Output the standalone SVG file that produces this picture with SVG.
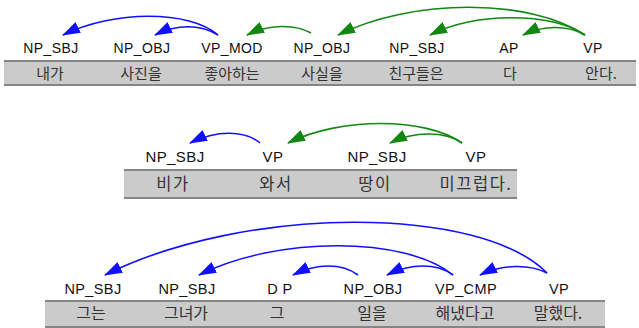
<svg xmlns="http://www.w3.org/2000/svg" width="639" height="328" viewBox="0 0 639 328">
<style>
.bg{fill:#ffffff}
.bar{fill:#cbcbcb}
.edge{stroke:#858585;stroke-width:2}
.lbl{font-family:"Liberation Sans",Arial,sans-serif;fill:#111;text-anchor:middle;letter-spacing:0.4px}
.w{font-family:"Noto Sans CJK KR","Noto Sans",sans-serif;fill:#333;text-anchor:middle}
.r1 .lbl{font-size:14px}.r1 .w{font-size:15px}
.r2 .lbl{font-size:15px}.r2 .w{font-size:16.5px;letter-spacing:1.5px}
.r3 .lbl{font-size:14.5px}.r3 .w{font-size:16px}
.b{fill:none;stroke:#1010ff;stroke-width:1.6;marker-end:url(#ab)}
.g{fill:none;stroke:#128812;stroke-width:1.6;marker-end:url(#ag)}
</style>
<defs>
<marker id="ab" markerUnits="userSpaceOnUse" markerWidth="18" markerHeight="12" viewBox="0 0 18 12" refX="17" refY="6" orient="auto"><path d="M0,0 L18,6 L0,12 z" fill="#1010ff"/></marker>
<marker id="ag" markerUnits="userSpaceOnUse" markerWidth="18" markerHeight="12" viewBox="0 0 18 12" refX="17" refY="6" orient="auto"><path d="M0,0 L18,6 L0,12 z" fill="#128812"/></marker>
</defs>
<rect class="bg" x="0" y="0" width="639" height="328"/>
<g id="bars">
<rect class="bar" x="4" y="60" width="632" height="25"/>
<line class="edge" x1="4" y1="61" x2="636" y2="61"/><line class="edge" x1="4" y1="85" x2="636" y2="85"/>
<rect class="bar" x="124" y="169" width="393" height="29"/>
<line class="edge" x1="124" y1="170" x2="517" y2="170"/><line class="edge" x1="124" y1="198" x2="517" y2="198"/>
<rect class="bar" x="45" y="300" width="560" height="27"/>
<line class="edge" x1="45" y1="301" x2="605" y2="301"/><line class="edge" x1="45" y1="327" x2="605" y2="327"/>
</g>
<g class="r1">
<g id="s1n1"><text class="lbl" x="51" y="53">NP_SBJ</text><text class="w" x="50" y="79">내가</text></g>
<g id="s1n2"><text class="lbl" x="142" y="53">NP_OBJ</text><text class="w" x="141" y="79">사진을</text></g>
<g id="s1n3"><text class="lbl" x="232" y="53">VP_MOD</text><text class="w" x="232" y="79">좋아하는</text></g>
<g id="s1n4"><text class="lbl" x="322" y="53">NP_OBJ</text><text class="w" x="322" y="79">사실을</text></g>
<g id="s1n5"><text class="lbl" x="417" y="53">NP_SBJ</text><text class="w" x="416" y="79">친구들은</text></g>
<g id="s1n6"><text class="lbl" x="509" y="53">AP</text><text class="w" x="510" y="79">다</text></g>
<g id="s1n7"><text class="lbl" x="593" y="53">VP</text><text class="w" x="601" y="79">안다.</text></g>
</g>
<g class="r2">
<g id="s2n1"><text class="lbl" x="175" y="162">NP_SBJ</text><text class="w" x="173" y="190">비가</text></g>
<g id="s2n2"><text class="lbl" x="273" y="162">VP</text><text class="w" x="276" y="190">와서</text></g>
<g id="s2n3"><text class="lbl" x="377" y="162">NP_SBJ</text><text class="w" x="375" y="190">땅이</text></g>
<g id="s2n4"><text class="lbl" x="476" y="162">VP</text><text class="w" x="476" y="190">미끄럽다.</text></g>
</g>
<g class="r3">
<g id="s3n1"><text class="lbl" x="93" y="294">NP_SBJ</text><text class="w" x="91" y="319">그는</text></g>
<g id="s3n2"><text class="lbl" x="187" y="294">NP_SBJ</text><text class="w" x="186" y="319">그녀가</text></g>
<g id="s3n3"><text class="lbl" x="280" y="294">D P</text><text class="w" x="277" y="319">그</text></g>
<g id="s3n4"><text class="lbl" x="373" y="294">NP_OBJ</text><text class="w" x="372" y="319">일을</text></g>
<g id="s3n5"><text class="lbl" x="466" y="294">VP_CMP</text><text class="w" x="465" y="319">해냈다고</text></g>
<g id="s3n6"><text class="lbl" x="559" y="294">VP</text><text class="w" x="558" y="319">말했다.</text></g>
</g>
<g id="connectors">
<path class="b" d="M218,35 C190,10 113,10 63,35"/>
<path class="b" d="M218,35 C200,24 177,24 155,35"/>
<path class="g" d="M311,33 C295,24 269,24 247,35"/>
<path class="g" d="M585,35 C530,-2 412,-2 338,35"/>
<path class="g" d="M585,35 C550,12 476,12 430,35"/>
<path class="g" d="M585,35 C568,25 543,25 523,35"/>
<path class="b" d="M260,143 C245,130 216,130 190,143"/>
<path class="g" d="M462,143 C425,117 340,117 288,143"/>
<path class="g" d="M462,143 C445,131 414,131 390,143"/>
<path class="b" d="M547,273 C480,205 245,205 105,275"/>
<path class="b" d="M453,275 C405,236 277,236 199,275"/>
<path class="b" d="M358,275 C342,263 317,263 293,275"/>
<path class="b" d="M547,273 C530,264 502,264 480,275"/>
<path class="b" d="M453,275 C437,263 411,263 387,275"/>
</g>
</svg>
